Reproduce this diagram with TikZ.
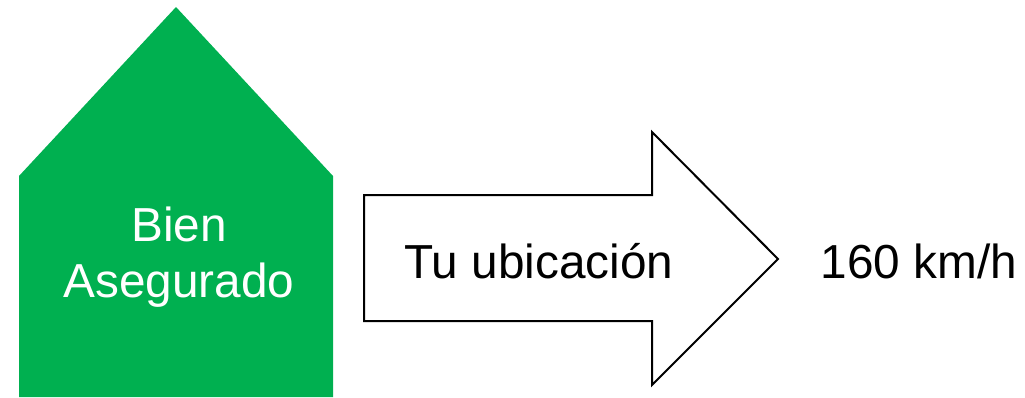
\documentclass[tikz,border=0pt]{standalone}
\usepackage{fontspec}
\setmainfont{Liberation Sans}
\usetikzlibrary{positioning}
\definecolor{casaverde}{RGB}{0,176,80}
\tikzset{
	rotulo/.style={font=\fontsize{35.8}{42}\selectfont,inner sep=0pt,align=center},
}
\begin{document}
\begin{tikzpicture}[x=0.75pt,y=-0.75pt]
	\useasboundingbox (0,0) rectangle (1025,397);
	%casa
	\fill[casaverde] (19,397) -- (19,176) -- (176,7) -- (333,176) -- (333,397) -- cycle;
	\node[rotulo,text=white] (bien) at (179,257) {Bien\\Asegurado};
	%flecha
	\draw[line width=1.5pt,fill=white] (364,195) -- (652,195) -- (652,132) -- (778,259) -- (652,385) -- (652,321) -- (364,321) -- cycle;
	\node[rotulo] (ubicacion) at (539,261) {Tu ubicación};
	\node[rotulo] (velocidad) at (919,261) {160 km/h};
\end{tikzpicture}
\end{document}
